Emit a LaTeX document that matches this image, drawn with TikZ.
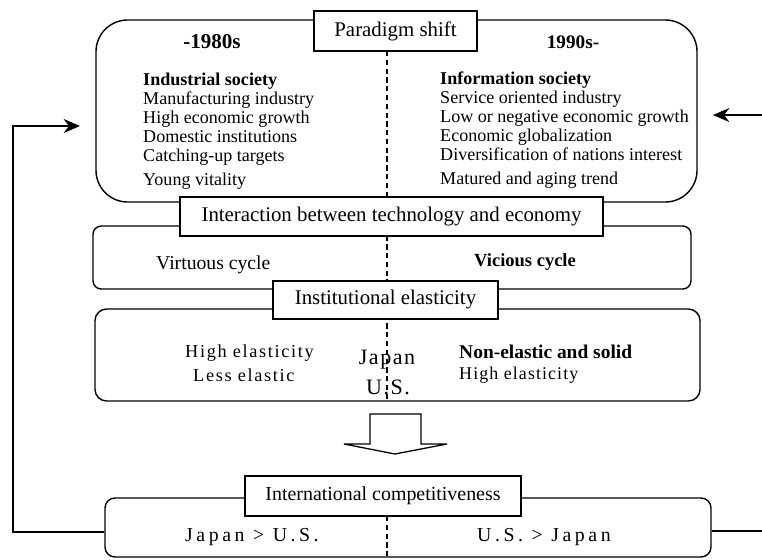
\documentclass[tikz,border=0pt]{standalone}
\usepackage{fontspec}
\setmainfont{Liberation Serif}
\usepackage{tikz}
\usetikzlibrary{arrows.meta,positioning,calc}

\newcommand{\listsize}{\fontsize{15.4}{16.2}\selectfont}
\newcommand{\tagsize}{\fontsize{17.8}{20}\selectfont}

\begin{document}
\begin{tikzpicture}[x=0.03cm, y=-0.03cm,
    panel/.style={draw, line width=1.2pt, inner sep=0pt},
    tag/.style={draw, fill=white, line width=1.1pt, inner sep=0pt, font=\tagsize},
    divider/.style={dash pattern=on 4.5pt off 3pt, line width=1pt},
    feed/.style={line width=1pt},
    itemtext/.style={inner sep=0pt, anchor=west},
    listtext/.style={inner sep=0pt, anchor=north west, align=left, font=\listsize}]
    \useasboundingbox (0,0) rectangle (762,559);

    % Dashed divider between the two periods
    \draw[divider] (387,51) -- (387,401);
    \draw[divider] (387,516) -- (387,559);

    % Panels
    \node[panel, rounded corners=0.95cm, minimum width=18.03cm, minimum height=5.46cm] (era) at (396.5,111) {};
    \node[panel, rounded corners=0.25cm, minimum width=17.94cm, minimum height=1.89cm] (cycle) at (392,257.5) {};
    \node[panel, rounded corners=0.35cm, minimum width=18.15cm, minimum height=2.76cm] (elastic) at (397.5,355) {};
    \node[panel, rounded corners=0.3cm, minimum width=18.18cm, minimum height=1.77cm] (comp) at (408,527.5) {};

    % Titles
    \node[tag, minimum width=4.89cm, minimum height=1.2cm] (shift) at (395.5,31) {Paradigm shift};
    \node[tag, minimum width=12.69cm, minimum height=1.17cm] (interact) at (391.5,216.5) {Interaction between technology and economy};
    \node[tag, minimum width=6.75cm, minimum height=1.14cm] (inst) at (385.5,300) {Institutional elasticity};
    \node[tag, minimum width=8.28cm, minimum height=1.2cm, font=\fontsize{17}{20}\selectfont] (intl) at (383,496) {International competitiveness};

    % Paradigm shift
    \node[font=\fontsize{18}{20}\selectfont\bfseries] (old) at (212,42) {-1980s};
    \node[font=\fontsize{16.4}{18}\selectfont\bfseries] (new) at (573,42) {1990s-};
    \node[listtext] (oldlist) at (143,73) {\textbf{Industrial society}\\Manufacturing industry\\High economic growth\\Domestic institutions\\Catching-up targets\\[4pt]Young vitality};
    \node[listtext] (newlist) at (440,72) {\textbf{Information society}\\Service oriented industry\\Low or negative economic growth\\Economic globalization\\Diversification of nations interest\\[4pt]Matured and aging trend};

    % Technology and economy
    \node[itemtext, font=\fontsize{16.8}{18}\selectfont] (virt) at (156,265) {Virtuous cycle};
    \node[itemtext, font=\fontsize{15.8}{18}\selectfont\bfseries] (vic) at (474,262) {Vicious cycle};

    % Institutions
    \node[itemtext, font={\fontsize{15.6}{18}\selectfont\addfontfeature{LetterSpace=9}}] (jphigh) at (185,353) {High elasticity};
    \node[itemtext, font={\fontsize{15.6}{18}\selectfont\addfontfeature{LetterSpace=9}}] (usless) at (193,375) {Less elastic};
    \node[itemtext, font=\fontsize{16.6}{18}\selectfont\bfseries] (jpsolid) at (459,352) {Non-elastic and solid};
    \node[itemtext, font={\fontsize{15.3}{18}\selectfont\addfontfeature{LetterSpace=6}}] (ushigh) at (459,375) {High elasticity};
    \node[font={\fontsize{18.8}{20}\selectfont\addfontfeature{LetterSpace=7}}] (jp) at (387,360) {Japan};
    \node[font={\fontsize{18.8}{20}\selectfont\addfontfeature{LetterSpace=7}}] (us) at (388,387) {U.S.};

    % Outcome
    \draw[line width=1.1pt, fill=white] (370,414) -- (421,414) -- (421,444) -- (447,444) -- (395,454) -- (344,444) -- (370,444) -- cycle;
    \node[itemtext, font={\fontsize{16.9}{18}\selectfont\addfontfeature{LetterSpace=18}}] (jpwin) at (185,537) {Japan > U.S.};
    \node[itemtext, font={\fontsize{16.9}{18}\selectfont\addfontfeature{LetterSpace=18}}] (uswin) at (477,537) {U.S. > Japan};

    % Feedback to the paradigm
    \coordinate (backL) at (13,532);
    \coordinate (inL) at (80,126);
    \coordinate (backR) at (762,531);
    \coordinate (startR) at (762,115);
    \coordinate (inR) at (713,115);
    \draw[feed, -{Stealth[length=14pt,width=12pt]}] (backL -| comp.west) -- (backL) |- (inL);
    \draw[feed] (backR -| comp.east) -- (backR);
    \draw[feed, -{Stealth[length=14pt,width=12pt]}] (startR) -- (inR);
\end{tikzpicture}
\end{document}
